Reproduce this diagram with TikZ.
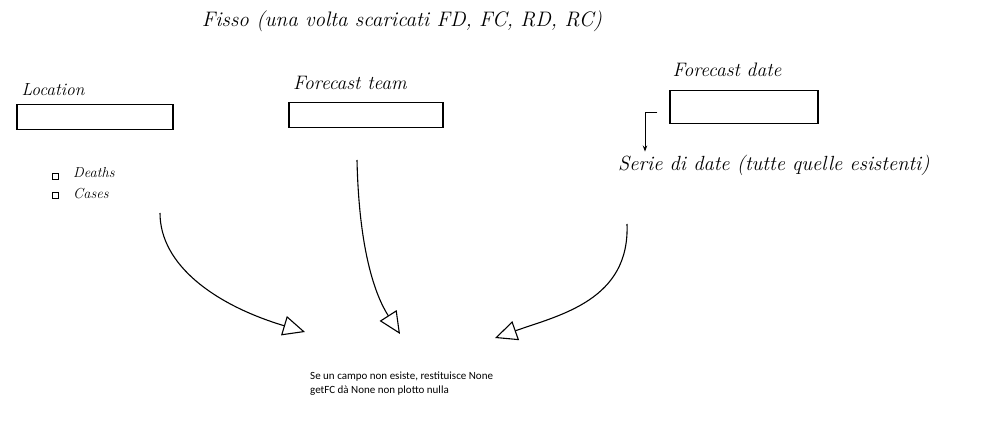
\documentclass[tikz,border=0pt]{standalone}
\usepackage{fontspec}
\newfontfamily\notefont{Carlito}
\usetikzlibrary{arrows.meta,calc}

\begin{document}
\begin{tikzpicture}[x=1pt,y=-1pt,
  field/.style={draw,line width=1.1pt,inner sep=0pt},
  hand/.style={font=\itshape\fontsize{#1}{#1}\selectfont,inner sep=0pt},
  tick/.style={draw,line width=.8pt,minimum size=6pt,inner sep=0pt},
  link/.style={-{Triangle[open,length=22pt,width=20pt,line width=1.1pt]},line width=1.1pt}]
  \useasboundingbox (0,0) rectangle (989,430);
  \node[hand=21] (title) at (402,21){Fisso (una volta scaricati FD, FC, RD, RC)};
  % location column
  \node[hand=17.5] (loc) at (53,90){Location};
  \node[field,minimum width=156pt,minimum height=25pt] (locbox) at (95,117){};
  \node[tick] (t1) at (55,176){};
  \node[tick] (t2) at (55,195){};
  \node[hand=14.5,anchor=west] (deaths) at (73,173){Deaths};
  \node[hand=14.5,anchor=west] (cases) at (73,194){Cases};
  % forecast team column
  \node[hand=19.5] (team) at (350,83){Forecast team};
  \node[field,minimum width=154pt,minimum height=25pt] (teambox) at (366,115){};
  % forecast date column
  \node[hand=19.5] (date) at (727,70){Forecast date};
  \node[field,minimum width=148pt,minimum height=33pt] (datebox) at (744,107){};
  \node[hand=20.5,anchor=west] (serie) at (618,165){Serie di date (tutte quelle esistenti)};
  \draw[-{Stealth[length=6pt]},line width=.9pt] ($(datebox.west)+(-12,5)$) -| ($(serie.north west)+(27,-3)$);
  % note at the bottom
  \node[font=\notefont\fontsize{11}{14}\selectfont,align=left,anchor=north west,inner sep=0pt] (note) at (310,372){Se un campo non esiste, restituisce None\\getFC dà None non plotto nulla};
  \coordinate (a1) at (160,213);
  \coordinate (a2) at (357,160);
  \coordinate (a3) at (627,224);
  \coordinate (e1) at (305,332);
  \coordinate (e2) at (400,334);
  \coordinate (e3) at (495,338);
  \draw[link] (a1) .. controls (160,265) and (215,305) .. (e1);
  \draw[link] (a2) .. controls (359,250) and (375,295) .. (e2);
  \draw[link] (a3) .. controls (630,300) and (560,315) .. (e3);
\end{tikzpicture}
\end{document}
